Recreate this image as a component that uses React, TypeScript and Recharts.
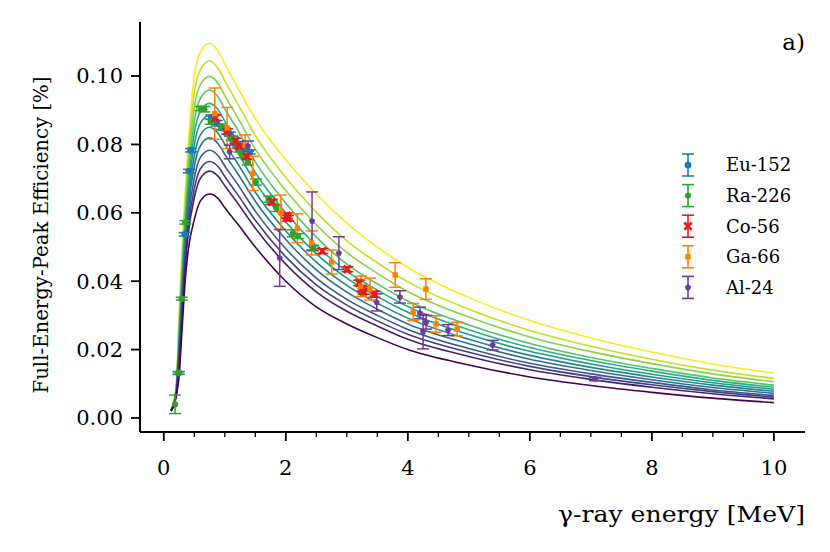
import React from 'react';
import { ComposedChart, Line, Scatter, ErrorBar, XAxis, YAxis, Legend, Label } from 'recharts';

// Energy grid (MeV) for the simulated efficiency curves
const ENERGY_GRID = [0.12, 0.2, 0.25, 0.3, 0.35, 0.4, 0.5, 0.6, 0.75, 0.9, 1.0, 1.2, 1.5, 2.0, 2.5, 3.0, 3.5, 4.0, 5.0, 6.0, 7.0, 8.0, 9.0, 10.0];

// Simulated curves, highest (yellow) to lowest (dark purple)
const CURVE_0 = [0.0025, 0.0085, 0.030, 0.050, 0.066, 0.080, 0.100, 0.107, 0.1096, 0.107, 0.1035, 0.097, 0.0875, 0.0755, 0.0655, 0.057, 0.050, 0.044, 0.0352, 0.0285, 0.0234, 0.0193, 0.0158, 0.0131];
const CURVE_1 = [0.0024, 0.0082, 0.0279, 0.0472, 0.0630, 0.0764, 0.0951, 0.1019, 0.1044, 0.1020, 0.0986, 0.0923, 0.0826, 0.0703, 0.0602, 0.0518, 0.0454, 0.0398, 0.0318, 0.0256, 0.0210, 0.0172, 0.0140, 0.0116];
const CURVE_2 = [0.0024, 0.0080, 0.0261, 0.0447, 0.0603, 0.0732, 0.0908, 0.0975, 0.0999, 0.0976, 0.0943, 0.0882, 0.0786, 0.0665, 0.0565, 0.0484, 0.0423, 0.0370, 0.0295, 0.0237, 0.0194, 0.0159, 0.0129, 0.0106];
const CURVE_3 = [0.0023, 0.0077, 0.0244, 0.0425, 0.0579, 0.0704, 0.0869, 0.0935, 0.0959, 0.0936, 0.0904, 0.0846, 0.0749, 0.0628, 0.0529, 0.0450, 0.0392, 0.0342, 0.0272, 0.0218, 0.0177, 0.0145, 0.0117, 0.0096];
const CURVE_4 = [0.0023, 0.0075, 0.0228, 0.0404, 0.0557, 0.0677, 0.0833, 0.0897, 0.0920, 0.0899, 0.0868, 0.0811, 0.0718, 0.0600, 0.0504, 0.0429, 0.0374, 0.0326, 0.0258, 0.0206, 0.0168, 0.0137, 0.0110, 0.0090];
const CURVE_5 = [0.0023, 0.0073, 0.0214, 0.0385, 0.0536, 0.0652, 0.0799, 0.0862, 0.0885, 0.0864, 0.0834, 0.0779, 0.0689, 0.0573, 0.0480, 0.0409, 0.0355, 0.0309, 0.0244, 0.0195, 0.0158, 0.0128, 0.0103, 0.0084];
const CURVE_6 = [0.0022, 0.0071, 0.0200, 0.0366, 0.0515, 0.0627, 0.0766, 0.0828, 0.0850, 0.0830, 0.0801, 0.0747, 0.0660, 0.0547, 0.0456, 0.0388, 0.0336, 0.0292, 0.0230, 0.0183, 0.0148, 0.0120, 0.0096, 0.0078];
const CURVE_7 = [0.0022, 0.0069, 0.0187, 0.0349, 0.0496, 0.0605, 0.0736, 0.0796, 0.0819, 0.0800, 0.0771, 0.0718, 0.0634, 0.0522, 0.0433, 0.0368, 0.0318, 0.0275, 0.0217, 0.0172, 0.0139, 0.0112, 0.0089, 0.0072];
const CURVE_8 = [0.0021, 0.0067, 0.0172, 0.0330, 0.0476, 0.0580, 0.0702, 0.0762, 0.0783, 0.0765, 0.0737, 0.0686, 0.0605, 0.0495, 0.0409, 0.0347, 0.0300, 0.0259, 0.0203, 0.0160, 0.0129, 0.0104, 0.0082, 0.0066];
const CURVE_9 = [0.0021, 0.0065, 0.0159, 0.0312, 0.0456, 0.0557, 0.0671, 0.0729, 0.0750, 0.0733, 0.0706, 0.0656, 0.0578, 0.0471, 0.0389, 0.0330, 0.0284, 0.0245, 0.0192, 0.0151, 0.0121, 0.0097, 0.0077, 0.0061];
const CURVE_10 = [0.0021, 0.0064, 0.0147, 0.0296, 0.0440, 0.0537, 0.0644, 0.0701, 0.0722, 0.0705, 0.0679, 0.0631, 0.0555, 0.0450, 0.0369, 0.0312, 0.0269, 0.0230, 0.0180, 0.0141, 0.0113, 0.0090, 0.0071, 0.0056];
const CURVE_11 = [0.0020, 0.0060, 0.012, 0.026, 0.040, 0.049, 0.058, 0.0635, 0.0655, 0.064, 0.0615, 0.057, 0.050, 0.040, 0.0325, 0.0275, 0.0235, 0.020, 0.0155, 0.012, 0.0095, 0.0075, 0.0058, 0.0045];

const CURVE_COLORS = ['#fde725', '#c2df23', '#86d549', '#52c569', '#2ab07f', '#1e9b8a', '#25858e', '#2d708e', '#38588c', '#433e85', '#482173', '#440154'];

// Measured points: [energy MeV, efficiency %, error]
const EU152 = [
  [0.2447, 0.0132, 0.0004], [0.3443, 0.0537, 0.0005], [0.411, 0.0722, 0.0005], [0.444, 0.0783, 0.0005],
  [0.779, 0.0880, 0.0006], [0.867, 0.0862, 0.0008], [0.964, 0.0848, 0.0006], [1.086, 0.0830, 0.0006],
  [1.112, 0.0818, 0.0006], [1.213, 0.0800, 0.0009], [1.299, 0.0790, 0.0010], [1.408, 0.0778, 0.0006],
];
const RA226 = [
  [0.186, 0.0040, 0.0027], [0.242, 0.0131, 0.0004], [0.295, 0.0349, 0.0004], [0.352, 0.0572, 0.0005],
  [0.609, 0.0905, 0.0006], [0.665, 0.0903, 0.0008], [0.768, 0.0866, 0.0007], [0.934, 0.0852, 0.0008],
  [1.120, 0.0818, 0.0006], [1.238, 0.0785, 0.0007], [1.281, 0.0770, 0.0009], [1.378, 0.0748, 0.0008],
  [1.509, 0.0690, 0.0009], [1.730, 0.0640, 0.0009], [1.764, 0.0630, 0.0006], [1.847, 0.0613, 0.0009],
  [2.118, 0.0540, 0.0010], [2.204, 0.0532, 0.0007], [2.448, 0.0497, 0.0008],
];
const CO56 = [
  [0.847, 0.0878, 0.0008], [1.038, 0.0838, 0.0008], [1.175, 0.0810, 0.0008], [1.238, 0.0795, 0.0007],
  [1.360, 0.0765, 0.0008], [1.771, 0.0632, 0.0007], [2.015, 0.0592, 0.0008], [2.035, 0.0584, 0.0008],
  [2.598, 0.0488, 0.0007], [3.010, 0.0435, 0.0007], [3.202, 0.0395, 0.0008], [3.253, 0.0378, 0.0007],
  [3.273, 0.0370, 0.0008], [3.451, 0.0362, 0.0009],
];
const GA66 = [
  [0.834, 0.0890, 0.0075], [1.039, 0.0848, 0.0060], [1.333, 0.0798, 0.0030], [1.460, 0.0715, 0.0050],
  [1.919, 0.0602, 0.0050], [2.190, 0.0555, 0.0042], [2.423, 0.0512, 0.0035], [2.752, 0.0456, 0.0035],
  [3.229, 0.0385, 0.0030], [3.381, 0.0377, 0.0032], [3.792, 0.0418, 0.0036], [4.087, 0.0310, 0.0025],
  [4.296, 0.0377, 0.0030], [4.461, 0.0275, 0.0024], [4.807, 0.0260, 0.0020],
];
const AL24 = [
  [1.080, 0.0778, 0.0020], [1.380, 0.0795, 0.0015], [1.900, 0.0468, 0.0083], [2.430, 0.0576, 0.0085],
  [2.870, 0.0482, 0.0048], [3.490, 0.0338, 0.0025], [3.870, 0.0354, 0.0018], [4.200, 0.0307, 0.0017],
  [4.300, 0.0280, 0.0020], [4.250, 0.0252, 0.0050], [4.660, 0.0257, 0.0016], [5.390, 0.0213, 0.0014],
  [7.070, 0.0114, 0.0005],
];

const SOURCE_NAMES = ['Eu-152', 'Ra-226', 'Co-56', 'Ga-66', 'Al-24'];
const SOURCE_COLORS = ['#1f78b4', '#33a02c', '#e31a1c', '#ff7f00', '#6a3d9a'];
const SOURCE_MARKERS = ['circle', 'dot', 'x', 'square', 'pentagon'];
const SOURCE_DATA = [EU152, RA226, CO56, GA66, AL24];

const X_TICKS = [0, 0.5, 1, 1.5, 2, 2.5, 3, 3.5, 4, 4.5, 5, 5.5, 6, 6.5, 7, 7.5, 8, 8.5, 9, 9.5, 10];
const X_LABELED = [0, 2, 4, 6, 8, 10];
const Y_TICKS = [0, 0.02, 0.04, 0.06, 0.08, 0.1];

const FONT = '"DejaVu Serif", "Liberation Serif", serif';

const curveSeries = [CURVE_0, CURVE_1, CURVE_2, CURVE_3, CURVE_4, CURVE_5, CURVE_6, CURVE_7, CURVE_8, CURVE_9, CURVE_10, CURVE_11]
  .map((vals) => vals.map((v, j) => ({ x: ENERGY_GRID[j], y: v })));

const pointSeries = SOURCE_DATA.map((rows) => rows.map((r) => ({ x: r[0], y: r[1], e: r[2] })));

function Marker({ kind, cx, cy, color }: { kind: string; cx: number; cy: number; color: string }) {
  if (cx == null || cy == null) return null;
  switch (kind) {
    case 'circle':
      return <circle cx={cx} cy={cy} r={3.4} fill={color} />;
    case 'dot':
      return <circle cx={cx} cy={cy} r={3.1} fill={color} />;
    case 'x':
      return (
        <g stroke={color} strokeWidth={2.7}>
          <line x1={cx - 3.7} y1={cy - 3.7} x2={cx + 3.7} y2={cy + 3.7} />
          <line x1={cx - 3.7} y1={cy + 3.7} x2={cx + 3.7} y2={cy - 3.7} />
        </g>
      );
    case 'square':
      return <rect x={cx - 2.7} y={cy - 2.7} width={5.4} height={5.4} fill={color} />;
    default: {
      const pts = [0, 1, 2, 3, 4]
        .map((k) => {
          const a = -Math.PI / 2 + (k * 2 * Math.PI) / 5;
          return `${cx + 3.3 * Math.cos(a)},${cy + 3.3 * Math.sin(a)}`;
        })
        .join(' ');
      return <polygon points={pts} fill={color} />;
    }
  }
}

function XTick(props: any) {
  const { x, y, payload } = props;
  const v = payload.value;
  const major = X_LABELED.includes(v);
  return (
    <g>
      <line x1={x} x2={x} y1={y} y2={y + (major ? 9 : 5)} stroke="#000" strokeWidth={major ? 1.8 : 1.3} />
      {major && (
        <text x={x} y={y + 43} textAnchor="middle" fontFamily={FONT} fontSize={21} fill="#000">
          {v}
        </text>
      )}
    </g>
  );
}

const renderXLabel = () => (
  <g>
    <text x={805} y={522} textAnchor="end" fontFamily={FONT} fontSize={22} fill="#000" textLength={247} lengthAdjust="spacingAndGlyphs">
      γ-ray energy [MeV]
    </text>
    <text x={805} y={50} textAnchor="end" fontFamily={FONT} fontSize={23} fill="#000">
      a)
    </text>
  </g>
);

const renderYLabel = () => (
  <text transform="translate(48,235) rotate(-90)" x={0} y={0} textAnchor="middle" fontFamily={FONT} fontSize={21} fill="#000" textLength={317} lengthAdjust="spacingAndGlyphs">
    Full-Energy-Peak Efficiency [%]
  </text>
);

const renderLegend = () => (
  <svg width={160} height={165}>
    {SOURCE_NAMES.map((name, i) => {
      const cy = 20 + i * 30.6;
      const c = SOURCE_COLORS[i];
      return (
        <g key={name}>
          <line x1={28} x2={28} y1={cy - 11} y2={cy + 11} stroke={c} strokeWidth={1.6} />
          <line x1={22} x2={34} y1={cy - 11} y2={cy - 11} stroke={c} strokeWidth={1.6} />
          <line x1={22} x2={34} y1={cy + 11} y2={cy + 11} stroke={c} strokeWidth={1.6} />
          <Marker kind={SOURCE_MARKERS[i]} cx={28} cy={cy} color={c} />
          <text x={66} y={cy} dy="0.35em" fontFamily={FONT} fontSize={18} fill="#000">
            {name}
          </text>
        </g>
      );
    })}
  </svg>
);

export default function App() {
  return (
    <div style={{ position: 'absolute', left: 0, top: 0, width: 830, height: 552, background: '#fff' }}>
      <ComposedChart width={830} height={552} margin={{ top: 22, right: 25, left: 0, bottom: 0 }}>
        <XAxis
          type="number"
          dataKey="x"
          domain={[-0.39, 10.51]}
          allowDataOverflow
          ticks={X_TICKS}
          interval={0}
          tickLine={false}
          tickSize={0}
          tickMargin={0}
          height={120}
          axisLine={{ stroke: '#000', strokeWidth: 2 }}
          tick={<XTick />}
        >
          <Label content={renderXLabel} />
        </XAxis>
        <YAxis
          type="number"
          domain={[-0.0041, 0.1158]}
          allowDataOverflow
          ticks={Y_TICKS}
          interval={0}
          width={140}
          tickSize={9}
          tickMargin={8}
          tickLine={{ stroke: '#000', strokeWidth: 1.8 }}
          axisLine={{ stroke: '#000', strokeWidth: 2 }}
          tick={{ fill: '#000', fontFamily: FONT, fontSize: 21 }}
          tickFormatter={(v: number) => v.toFixed(2)}
        >
          <Label content={renderYLabel} />
        </YAxis>
        {curveSeries.map((d, i) => (
          <Line
            key={`c${i}`}
            data={d}
            dataKey="y"
            type="monotone"
            stroke={CURVE_COLORS[i]}
            strokeWidth={1.6}
            dot={false}
            activeDot={false}
            isAnimationActive={false}
            legendType="none"
          />
        ))}
        {pointSeries.map((d, i) => (
          <Scatter
            key={SOURCE_NAMES[i]}
            name={SOURCE_NAMES[i]}
            data={d}
            dataKey="y"
            fill={SOURCE_COLORS[i]}
            isAnimationActive={false}
            shape={(p: any) => <Marker kind={SOURCE_MARKERS[i]} cx={p.cx} cy={p.cy} color={SOURCE_COLORS[i]} />}
          >
            <ErrorBar dataKey="e" direction="y" width={6} stroke={SOURCE_COLORS[i]} strokeWidth={1.5} isAnimationActive={false} />
          </Scatter>
        ))}
        <Legend
          layout="vertical"
          align="center"
          verticalAlign="middle"
          content={renderLegend}
          wrapperStyle={{ position: 'absolute', left: 660, top: 145, width: 160, height: 165 }}
        />
      </ComposedChart>
    </div>
  );
}
